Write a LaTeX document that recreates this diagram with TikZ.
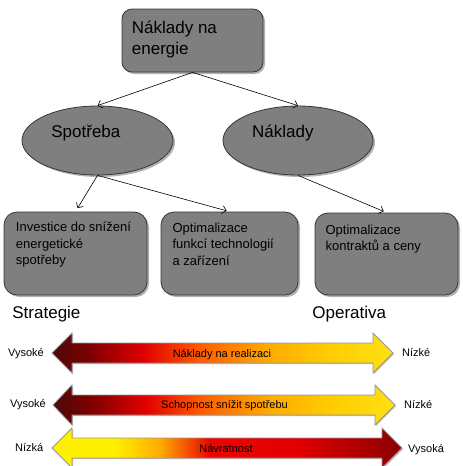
\documentclass[tikz,border=0pt]{standalone}
\usepackage{fontspec}
\setmainfont{Liberation Sans}
\usetikzlibrary{shapes.geometric}
\usetikzlibrary{shadows}
\usetikzlibrary{arrows.meta}

\definecolor{boxgray}{RGB}{127,127,127}
\definecolor{edgegray}{RGB}{55,55,55}
\definecolor{arrowedge}{RGB}{150,150,150}
\definecolor{cdark}{RGB}{75,10,10}
\definecolor{cdeep}{RGB}{120,0,0}
\definecolor{chot}{RGB}{225,0,0}
\definecolor{cflame}{RGB}{255,90,0}
\definecolor{corange}{RGB}{255,170,0}
\definecolor{cgold}{RGB}{255,205,0}
\definecolor{clight}{RGB}{255,225,20}
\definecolor{cyellow}{RGB}{255,240,0}
\definecolor{cred}{RGB}{235,5,0}
\definecolor{cwine}{RGB}{140,0,0}

% dark -> yellow, and back
\pgfdeclarehorizontalshading{hotcold}{100bp}{color(0bp)=(cdark); color(25bp)=(cdark); color(30bp)=(cdeep);
  color(38.5bp)=(chot); color(46.5bp)=(cflame); color(56.5bp)=(corange); color(66bp)=(cgold);
  color(75bp)=(clight); color(100bp)=(clight)}
\pgfdeclarehorizontalshading{coldhot}{100bp}{color(0bp)=(cyellow); color(25bp)=(cyellow); color(34bp)=(cyellow);
  color(40.5bp)=(corange); color(47.5bp)=(cred); color(60bp)=(chot); color(75bp)=(cwine); color(100bp)=(cwine)}

\begin{document}
\begin{tikzpicture}[x=1pt,y=-1pt,
  gshadow/.style={drop shadow={shadow xshift=2pt,shadow yshift=-2pt,opacity=0.3,fill=black}},
  gbox/.style={draw=edgegray,fill=boxgray,line width=0.8pt,rounded corners=#1,gshadow},
  gbox/.default=13pt,
  gell/.style={ellipse,draw=edgegray,fill=boxgray,line width=0.8pt,gshadow},
  bigtext/.style={font=\fontsize{17}{21.5}\selectfont,inner sep=0pt},
  boxtext/.style={font=\fontsize{13}{16.5}\selectfont,inner sep=0pt,align=left},
  smalltext/.style={font=\fontsize{11}{13}\selectfont,inner sep=0pt},
  conn/.style={-{Straight Barb[length=4pt,width=8pt]},line width=0.6pt},
  dblarrow/.style={draw=arrowedge,line width=0.8pt,shading=#1,
    drop shadow={shadow xshift=1pt,shadow yshift=-1pt,opacity=0.25,fill=black}}]
\useasboundingbox (0,0) rectangle (463,466);
\clip (0,0) rectangle (463,466);

% tree
\node[gbox=10pt,minimum width=141pt,minimum height=63pt] (energie) at (192.5,40.5) {};
\node[bigtext,anchor=north west,align=left] (energie-t) at (131.7,20.4) {Náklady na\\energie};

\node[gell,minimum width=151pt,minimum height=69pt] (spotreba) at (97.5,140.5) {};
\node[bigtext,anchor=base west] (spotreba-t) at (51.2,137) {Spotřeba};
\node[gell,minimum width=150pt,minimum height=69pt] (naklady) at (298,140.5) {};
\node[bigtext,anchor=base west] (naklady-t) at (252,137) {Náklady};

\node[gbox,minimum width=143pt,minimum height=83pt] (invest) at (75.5,253.5) {};
\node[boxtext,anchor=north west] (invest-t) at (15.8,222) {Investice do snížení\\energetické\\spotřeby};
\node[gbox,minimum width=137pt,minimum height=83pt] (optim) at (229.5,253.5) {};
\node[boxtext,anchor=north west] (optim-t) at (172.4,222.5) {Optimalizace\\funkcí technologií\\a zařízení};
\node[gbox,minimum width=143pt,minimum height=82pt] (kontrakt) at (386.5,254) {};
\node[boxtext,anchor=north west] (kontrakt-t) at (325.4,224.5) {Optimalizace\\kontraktů a ceny};

\draw[conn] (energie.south) -- (spotreba.north);
\draw[conn] (energie.south) -- (naklady.north);
\draw[conn,shorten >=4pt] (spotreba.south) -- (invest.north);
\draw[conn,shorten >=3pt] (spotreba.south) -- (optim.north);
\draw[conn,shorten >=3pt] (naklady.south) -- (kontrakt.north);

\node[bigtext,anchor=base west] (strategie) at (12.2,318) {Strategie};
\node[bigtext,anchor=base west] (operativa) at (312.2,318) {Operativa};

% double arrows: centre y / left tip / right tip / right base / shading
\foreach \yc/\lt/\rt/\rb/\sh in {353/52/393/373/hotcold,405/53/395/375/hotcold,448/52/402/382/coldhot}{
  \draw[dblarrow=\sh] (\lt,\yc) -- (72,\yc-20) -- (72,\yc-10) -- (\rb,\yc-10) -- (\rb,\yc-20)
    -- (\rt,\yc) -- (\rb,\yc+20) -- (\rb,\yc+10) -- (72,\yc+10) -- (72,\yc+20) -- cycle;
}

\node[smalltext,anchor=base west] (real-l) at (8,356) {Vysoké};
\node[smalltext,anchor=base west] (real-r) at (402,356) {Nízké};
\node[smalltext,anchor=base] (real) at (222,357) {Náklady na realizaci};

\node[smalltext,anchor=base west] (snizit-l) at (10,407) {Vysoké};
\node[smalltext,anchor=base west] (snizit-r) at (404,408) {Nízké};
\node[smalltext,anchor=base] (snizit) at (224.5,408) {Schopnost snížit spotřebu};

\node[smalltext,anchor=base west] (navrat-l) at (15,451.5) {Nízká};
\node[smalltext,anchor=base west] (navrat-r) at (408,452) {Vysoká};
\node[smalltext,anchor=base] (navrat) at (226,452) {Návratnost};
\end{tikzpicture}
\end{document}
